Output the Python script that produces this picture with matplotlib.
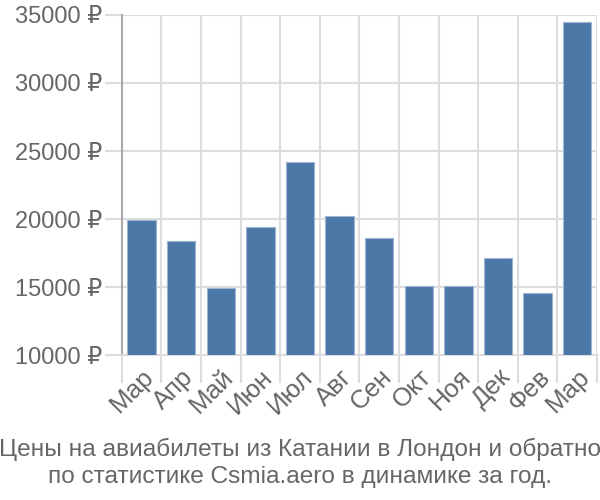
import matplotlib
matplotlib.use("Agg")
import matplotlib.pyplot as plt
from matplotlib.ticker import FixedLocator, NullFormatter

# Данные
MESYATSY = ["Мар", "Апр", "Май", "Июн", "Июл", "Авг", "Сен", "Окт", "Ноя", "Дек", "Фев", "Мар"]
TSENY = [19930, 18380, 14930, 19410, 24190, 20220, 18600, 15070, 15070, 17130, 14560, 34490]
Y_TICKS = [10000, 15000, 20000, 25000, 30000, 35000]
TITRE = "Цены на авиабилеты из Катании в Лондон и обратно\nпо статистике Csmia.aero в динамике за год."

plt.rcParams["font.family"] = ["Liberation Sans Narrow", "Liberation Sans", "DejaVu Sans"]

fig = plt.figure(figsize=(6, 5), dpi=100)
ax = fig.add_axes([0.203, 0.29, 0.792, 0.68])

x = list(range(len(TSENY)))
ax.bar(x, [v - 10000 for v in TSENY], bottom=10000, width=0.72,
       color="#4c78a8", edgecolor="#9db5d2", linewidth=0.8, zorder=3)

ax.set_xlim(-0.5, len(TSENY) - 0.5)
ax.set_ylim(10000, 35000)
ax.set_yticks(Y_TICKS)
ax.set_yticklabels([f"{v} ₽" for v in Y_TICKS])

# grille verticale aux bords des catégories
bords = [i - 0.5 for i in range(len(TSENY) + 1)]
ax.xaxis.set_minor_locator(FixedLocator(bords))
ax.xaxis.set_minor_formatter(NullFormatter())
ax.set_xticks(x)
ax.set_xticklabels(MESYATSY, rotation=45, ha="right", va="top", rotation_mode="anchor")
ax.tick_params(axis="x", which="major", length=0, pad=7, labelsize=18.5, labelcolor="#666666")
ax.tick_params(axis="x", which="minor", length=20, color="#dddddd", width=1.5)
ax.tick_params(axis="y", length=12, color="#dddddd", width=1.5, labelsize=17,
               labelcolor="#666666", pad=2)
ax.grid(True, which="minor", axis="x", color="#dddddd", linewidth=1.5, zorder=0)
ax.grid(True, which="major", axis="y", color="#dddddd", linewidth=1.5, zorder=0)

for s in ["top", "right"]:
    ax.spines[s].set_visible(False)
ax.spines["left"].set_color("#aaaaaa")
ax.spines["left"].set_linewidth(1.5)
ax.spines["bottom"].set_color("#dddddd")
ax.spines["bottom"].set_linewidth(1.5)

fig.text(0.5, 0.074, TITRE, ha="center", va="center", fontsize=17.6,
         color="#666666", linespacing=1.3)

fig.savefig("out.png", dpi=100)
